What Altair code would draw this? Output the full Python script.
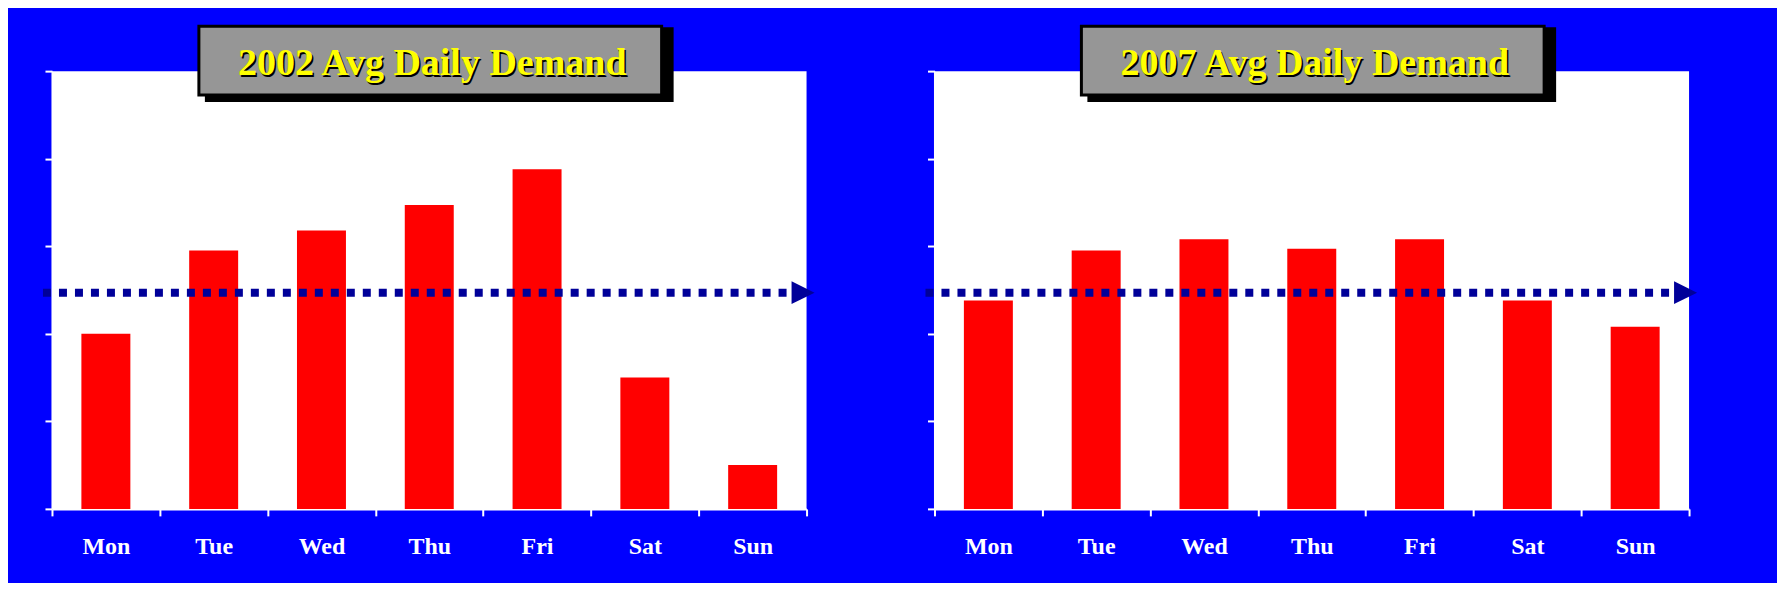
import altair as alt
import pandas as pd

# ---- data ----
days = ["Mon", "Tue", "Wed", "Thu", "Fri", "Sat", "Sun"]
demand_2002 = [2.0, 2.95, 3.18, 3.47, 3.88, 1.5, 0.5]
demand_2007 = [2.38, 2.95, 3.08, 2.97, 3.08, 2.38, 2.08]
panel_titles = ["2002 Avg Daily Demand", "2007 Avg Daily Demand"]
reference_levels = [2.47, 2.47]
y_ticks = [0, 1, 2, 3, 4, 5]

W = 755
H = 438
BLUE = "#0000FF"
NAVY = "#000099"
RED = "#FF0000"
GRAY = "#969696"
FONT = "Liberation Serif"


def panel(values, title, ref, left_extent, right_extent):
    df = pd.DataFrame({"day": days, "demand": values})
    one = pd.DataFrame({"label": [title], "ref": [ref]})
    yscale = alt.Scale(domain=[0, 5], nice=False, zero=True)

    x = alt.X(
        "day:N", sort=days,
        scale=alt.Scale(paddingInner=0, paddingOuter=0),
        axis=alt.Axis(
            title=None, labelAngle=0, labelColor="white", labelFont=FONT,
            labelFontWeight="bold", labelFontSize=24, labelPadding=38,
            labelBaseline="alphabetic", tickColor="white", tickSize=7,
            tickWidth=2, tickBand="extent", domainColor="white", domainWidth=2,
        ),
    )
    y = alt.Y(
        "demand:Q", scale=yscale,
        axis=alt.Axis(
            title=None, labels=False, values=y_ticks, grid=False,
            tickColor="white", tickSize=7, tickWidth=2,
            domainColor="white", domainWidth=2,
        ),
    )
    bars = alt.Chart(df).mark_bar(size=49, color=RED).encode(x=x, y=y)

    base1 = alt.Chart(one)
    spacer = base1.mark_rect(opacity=0, color="white").encode(
        x=alt.value(-left_extent), x2=alt.value(right_extent),
        y=alt.value(-63), y2=alt.value(512),
    )
    rule = base1.mark_rule(
        color=NAVY, strokeWidth=8, strokeDash=[8, 8], strokeCap="butt"
    ).encode(
        y=alt.Y("ref:Q", scale=yscale, title=None),
        x=alt.value(-9), x2=alt.value(W - 10),
    )
    arrow = base1.mark_point(
        shape="M-1,-1L1,0L-1,1Z", size=529, filled=True, color=NAVY,
        opacity=1, strokeWidth=0,
    ).encode(
        y=alt.Y("ref:Q", scale=yscale, title=None),
        x=alt.value(W - 3.5),
    )
    shadow = base1.mark_rect(color="black").encode(
        x=alt.value(153), x2=alt.value(622), y=alt.value(-44), y2=alt.value(31)
    )
    box = base1.mark_rect(fill=GRAY, stroke="black", strokeWidth=3).encode(
        x=alt.value(147), x2=alt.value(610), y=alt.value(-45), y2=alt.value(24)
    )
    tshadow = base1.mark_text(
        font=FONT, fontWeight="bold", fontSize=38, color="black",
        align="center", baseline="alphabetic",
    ).encode(text="label:N", x=alt.value(382), y=alt.value(6))
    text = base1.mark_text(
        font=FONT, fontWeight="bold", fontSize=38, color="#FFFF00",
        align="center", baseline="alphabetic",
    ).encode(text="label:N", x=alt.value(380.5), y=alt.value(4.3))

    return alt.layer(spacer, bars, rule, arrow, shadow, box, tshadow, text).properties(
        width=W, height=H
    )


left = panel(demand_2002, panel_titles[0], reference_levels[0], 43.7, 815)
right = panel(demand_2007, panel_titles[1], reference_levels[1], 67.3, 843)

chart = (
    alt.hconcat(left, right, spacing=0)
    .properties(padding=0, background=BLUE)
    .configure_view(fill="white", stroke=None)
)

chart.save("out.html", embed_options={"renderer": "svg", "actions": False})
